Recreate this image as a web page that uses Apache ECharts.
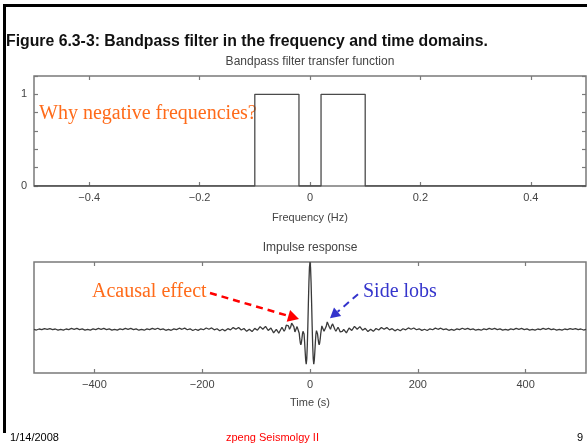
<!DOCTYPE html>
<html>
<head>
<meta charset="utf-8">
<style>
  html, body { margin: 0; padding: 0; background: #fff; }
  #chart { width: 587px; height: 443px; }
</style>
<script src="https://cdn.jsdelivr.net/npm/echarts@6/dist/echarts.min.js"></script>
</head>
<body>
<div id="chart"></div>
<script>
// transfer function (frequency in Hz, gain)
var freqEdges = [-0.5, -0.1, -0.1, -0.02, -0.02, 0.02, 0.02, 0.1, 0.1, 0.5];
var gainValues = [0, 0, 1, 1, 0, 0, 1, 1, 0, 0];
var freqTicks = [-0.4, -0.2, 0, 0.2, 0.4];
var gainLabels = [0, 1];
var timeTicks = [-400, -200, 0, 200, 400];

// impulse response
var edgeTimes = [-512, 512];
var edgeValues = [0, 0];
var tailStep = 5;
var leftTailStart = -507.5;
var leftTail = [
    -0.011, 0.004, -0.004, 0.011, 0, 0.011, -0.004, 0.004, -0.012, 0,
    -0.012, 0.004, -0.004, 0.012, 0, 0.012, -0.005, 0.005, -0.012, 0,
    -0.012, 0.005, -0.005, 0.012, 0, 0.013, -0.005, 0.005, -0.013, 0,
    -0.013, 0.005, -0.005, 0.013, 0, 0.014, -0.005, 0.005, -0.014, 0,
    -0.014, 0.005, -0.005, 0.014, 0, 0.015, -0.006, 0.006, -0.015, 0,
    -0.015, 0.006, -0.006, 0.016, 0, 0.017, -0.007, 0.007, -0.018, 0,
    -0.017, 0.007, -0.007, 0.019, 0, 0.020, -0.008, 0.008, -0.022, 0,
    -0.023, 0.009, -0.009, 0.025, 0, 0.027, -0.011, 0.011, -0.031, 0,
    -0.034, 0.013, -0.014, 0.039, 0, 0.044, -0.018, 0.019, -0.053, 0
];
var centerTimes = [
    -60, -58, -56, -54, -52, -50, -48, -46, -44, -42, -40, -38, -36, -34, -32, -30, -28, -26, -24, -22,
    -20, -19, -18, -17, -16, -15, -14, -13, -12, -11, -10, -9, -8, -7, -6, -5, -4, -3, -2, -1,
    0,
    1, 2, 3, 4, 5, 6, 7, 8, 9, 10, 11, 12, 13, 14, 15, 16, 17, 18, 19, 20,
    22, 24, 26, 28, 30, 32, 34, 36, 38, 40, 42, 44, 46, 48, 50, 52, 54, 56, 58, 60
];
var centerValues = [
    -0.03, -0.06, -0.04, 0.00, 0.03, 0.00, -0.03, 0.00, 0.06, 0.08, 0.05, 0.00, 0.03, 0.09, 0.11, 0.04, -0.04, -0.03, 0.04, 0.05,
    -0.06, -0.14, -0.20, -0.23, -0.20, -0.14, -0.07, -0.03, -0.02, -0.07, -0.19, -0.33, -0.46, -0.52, -0.44, -0.24, 0.05, 0.39, 0.70, 0.92,
    1.00,
    0.92, 0.70, 0.39, 0.05, -0.24, -0.44, -0.52, -0.46, -0.33, -0.19, -0.07, -0.02, -0.03, -0.07, -0.14, -0.20, -0.23, -0.20, -0.14, -0.06,
    0.05, 0.04, -0.03, -0.04, 0.04, 0.11, 0.09, 0.03, 0.00, 0.05, 0.08, 0.06, 0.00, -0.03, 0.00, 0.03, 0.00, -0.04, -0.06, -0.03
];
var rightTailStart = 62.5;
var rightTail = [
    0, -0.053, 0.019, -0.018, 0.044, 0, 0.039, -0.014, 0.013, -0.034,
    0, -0.031, 0.011, -0.011, 0.027, 0, 0.025, -0.009, 0.009, -0.023,
    0, -0.022, 0.008, -0.008, 0.020, 0, 0.019, -0.007, 0.007, -0.017,
    0, -0.018, 0.007, -0.007, 0.017, 0, 0.016, -0.006, 0.006, -0.015,
    0, -0.015, 0.006, -0.006, 0.015, 0, 0.014, -0.005, 0.005, -0.014,
    0, -0.014, 0.005, -0.005, 0.014, 0, 0.013, -0.005, 0.005, -0.013,
    0, -0.013, 0.005, -0.005, 0.013, 0, 0.012, -0.005, 0.005, -0.012,
    0, -0.012, 0.004, -0.004, 0.012, 0, 0.012, -0.004, 0.004, -0.012,
    0, -0.012, 0.004, -0.004, 0.011, 0, 0.011, -0.004, 0.004, -0.011
];

var sans = '"Liberation Sans", Arial, sans-serif';
var serif = '"Liberation Serif", "Times New Roman", serif';
var axisGray = '#7a7a7a';
var textGray = '#444';

function minusSign(v) {
    return String(v).replace('-', '\u2212');
}

function buildTransfer() {
    var out = [];
    for (var i = 0; i < freqEdges.length; i++) {
        out.push([freqEdges[i], gainValues[i]]);
    }
    return out;
}

function buildImpulse() {
    var out = [[edgeTimes[0], edgeValues[0]]];
    var i;
    for (i = 0; i < leftTail.length; i++) {
        out.push([leftTailStart + i * tailStep, leftTail[i]]);
    }
    for (i = 0; i < centerTimes.length; i++) {
        out.push([centerTimes[i], centerValues[i]]);
    }
    for (i = 0; i < rightTail.length; i++) {
        out.push([rightTailStart + i * tailStep, rightTail[i]]);
    }
    out.push([edgeTimes[1], edgeValues[1]]);
    return out;
}

function tickAxis(grid, pos, min, max, ticks, labels, extra) {
    var ax = {
        type: 'value', gridIndex: grid, position: pos, min: min, max: max,
        axisLine: {show: false, onZero: false},
        splitLine: {show: false},
        axisTick: {show: true, inside: true, length: 4, customValues: ticks,
            lineStyle: {color: axisGray, width: 1.2}},
        axisLabel: {show: labels, customValues: ticks, formatter: minusSign,
            margin: 6, color: textGray, fontSize: 11, fontFamily: sans}
    };
    for (var k in extra) {
        ax[k] = extra[k];
    }
    return ax;
}

function gainAxis(pos, labels) {
    return {type: 'value', gridIndex: 0, position: pos, min: 0, max: 1.2, interval: 0.2,
        axisLine: {show: false, onZero: false}, splitLine: {show: false},
        axisTick: {show: true, inside: true, length: 4, lineStyle: {color: axisGray, width: 1.2}},
        axisLabel: {show: labels, customValues: gainLabels, margin: 7,
            color: textGray, fontSize: 11, fontFamily: sans}};
}

function label(x, y, text, font, fill, align) {
    return {
        type: 'text', x: x, y: y, silent: true,
        style: {text: text, font: font, fill: fill,
            align: align || 'left', verticalAlign: 'middle',
            textAlign: align || 'left', textVerticalAlign: 'middle'}
    };
}

function dashed(x1, y1, x2, y2, color, w) {
    return {type: 'line', silent: true,
        shape: {x1: x1, y1: y1, x2: x2, y2: y2},
        style: {stroke: color, lineWidth: w, lineDash: [7, 5]}};
}

function head(points, color) {
    return {type: 'polygon', silent: true, shape: {points: points}, style: {fill: color}};
}

var myChart = echarts.init(document.getElementById('chart'), null, {renderer: 'canvas'});
var option = {
    animation: false,
    backgroundColor: '#fff',
    grid: [
        {left: 34, top: 76, width: 552, height: 110, show: true,
            borderColor: axisGray, borderWidth: 1.5, backgroundColor: 'transparent'},
        {left: 34, top: 262, width: 552, height: 111, show: true,
            borderColor: axisGray, borderWidth: 1.5, backgroundColor: 'transparent'}
    ],
    xAxis: [
        tickAxis(0, 'bottom', -0.5, 0.5, freqTicks, true, {
            name: 'Frequency (Hz)', nameLocation: 'middle', nameGap: 26,
            nameTextStyle: {color: textGray, fontSize: 11, fontFamily: sans}
        }),
        tickAxis(0, 'top', -0.5, 0.5, freqTicks, false, {}),
        tickAxis(1, 'bottom', -512, 512, timeTicks, true, {
            name: 'Time (s)', nameLocation: 'middle', nameGap: 24,
            nameTextStyle: {color: textGray, fontSize: 11, fontFamily: sans}
        }),
        tickAxis(1, 'top', -512, 512, timeTicks, false, {})
    ],
    yAxis: [
        gainAxis('left', true),
        gainAxis('right', false),
        {type: 'value', gridIndex: 1, min: -0.65, max: 1.0,
            axisLine: {show: false, onZero: false}, splitLine: {show: false},
            axisTick: {show: false}, axisLabel: {show: false}}
    ],
    series: [
        {type: 'line', xAxisIndex: 0, yAxisIndex: 0, data: buildTransfer(),
            symbol: 'none', lineStyle: {color: '#4a4a4a', width: 1.3}, silent: true},
        {type: 'line', xAxisIndex: 2, yAxisIndex: 2, data: buildImpulse(),
            symbol: 'none', lineStyle: {color: '#3a3a3a', width: 1.3}, silent: true}
    ],
    graphic: [
        {type: 'line', silent: true, shape: {x1: 4.5, y1: 4, x2: 4.5, y2: 433},
            style: {stroke: '#000', lineWidth: 3}},
        {type: 'line', silent: true, shape: {x1: 3, y1: 5.5, x2: 587, y2: 5.5},
            style: {stroke: '#000', lineWidth: 3}},
        label(6, 42, 'Figure 6.3-3: Bandpass filter in the frequency and time domains.',
            'bold 15.8px ' + sans, '#111'),
        label(310, 62, 'Bandpass filter transfer function', '12px ' + sans, textGray, 'center'),
        label(310, 248, 'Impulse response', '12px ' + sans, textGray, 'center'),
        label(39, 114, 'Why negative frequencies?', '20px ' + serif, '#FF6B1A'),
        label(92, 292, 'Acausal effect', '20px ' + serif, '#FF6B1A'),
        label(363, 292, 'Side lobs', '20px ' + serif, '#3535CC'),
        dashed(210, 293, 288.4, 315.9, '#FF0000', 2.5),
        head([[299, 319], [286.7, 321.7], [290.1, 310.1]], '#FF0000'),
        dashed(358, 294.3, 337.6, 311.8, '#3333CC', 2),
        head([[330, 318.3], [334.0, 307.6], [341.2, 316.0]], '#3333CC'),
        label(10, 438, '1/14/2008', '11px ' + sans, '#000'),
        label(226, 438, 'zpeng Seismolgy II', '11px ' + sans, '#FF0000'),
        label(577, 438, '9', '11px ' + sans, '#000')
    ]
};
myChart.setOption(option);
</script>
</body>
</html>
